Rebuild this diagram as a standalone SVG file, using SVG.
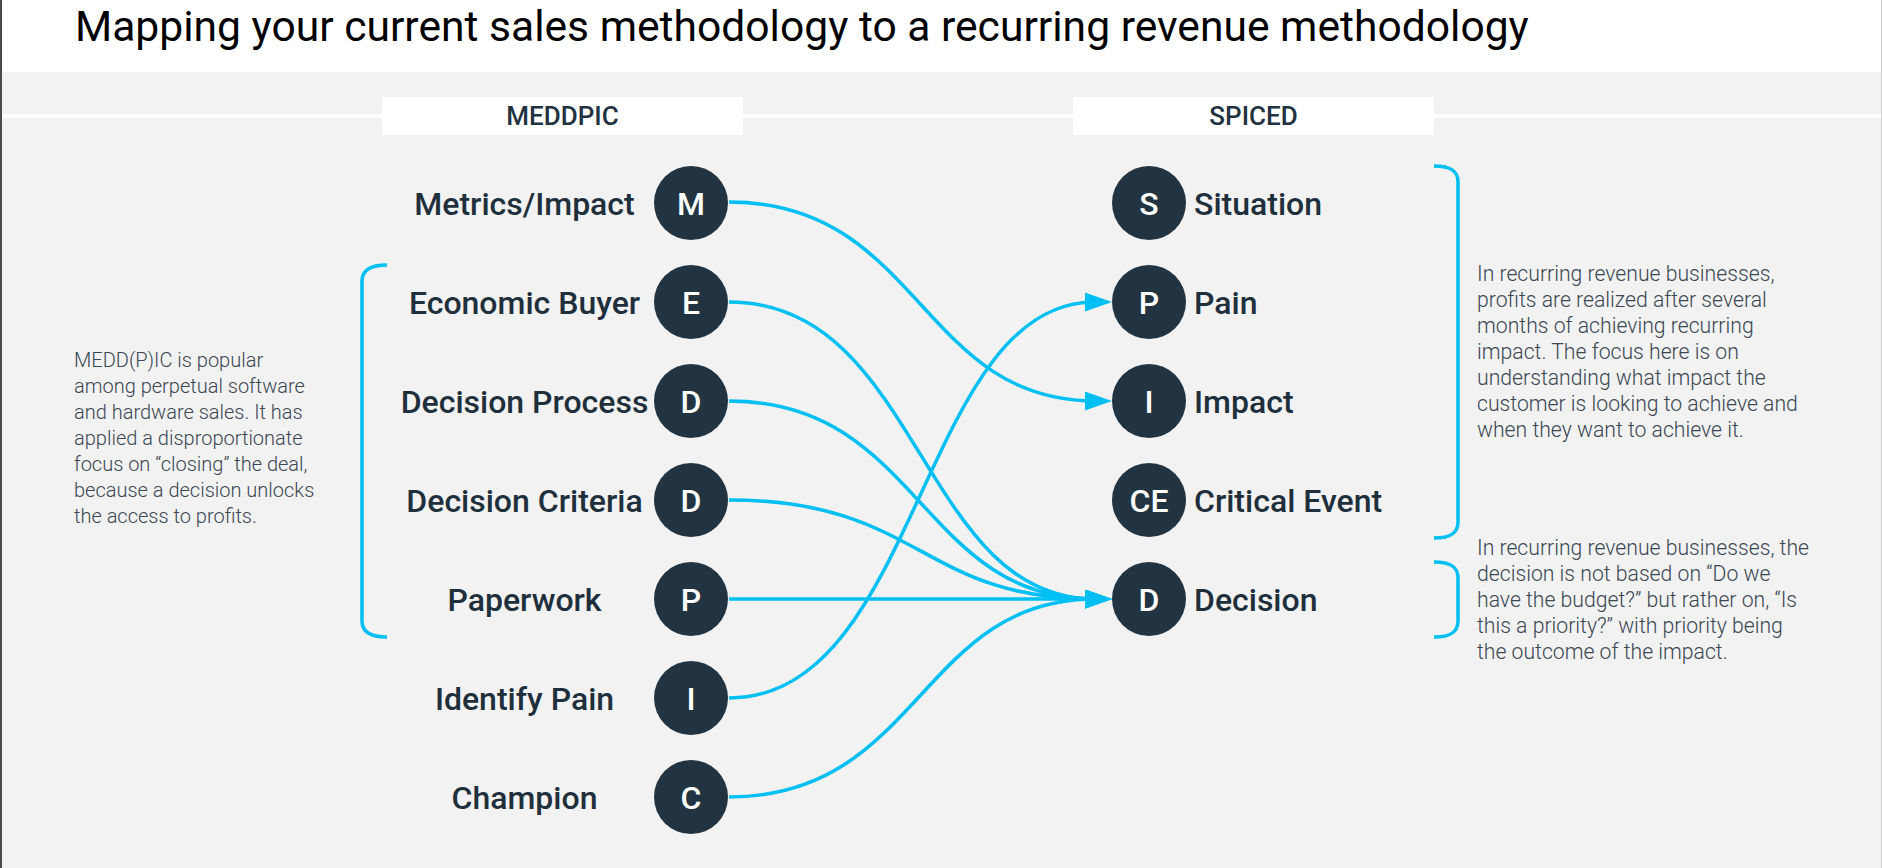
<svg xmlns="http://www.w3.org/2000/svg" width="1882" height="868" viewBox="0 0 1882 868">
<defs>
<style>
.bg{fill:#f2f2f2}
.title{font-family:Roboto,"Liberation Sans",sans-serif;font-size:42.6px;fill:#000}
.hdr{font-family:Roboto,"Liberation Sans",sans-serif;font-size:26px;font-weight:500;fill:#22323f;text-anchor:middle}
.lbl{font-family:Roboto,"Liberation Sans",sans-serif;font-size:32px;font-weight:500;fill:#1f2f3c}
.lft{text-anchor:middle}
.circ{fill:#223441}
.ltr{font-family:Roboto,"Liberation Sans",sans-serif;font-size:32px;font-weight:500;fill:#fff;text-anchor:middle}
.desc{font-family:Roboto,"Liberation Sans",sans-serif;font-size:20px;font-weight:300;fill:#3a4652}
.descr{font-size:21.2px}
.conn{fill:none;stroke:#00bff3;stroke-width:3.5}
.br{fill:none;stroke:#00bff3;stroke-width:3.5}
</style>
<marker id="arr" markerUnits="userSpaceOnUse" markerWidth="27" markerHeight="19" viewBox="0 0 27 19" refX="10" refY="9.5" orient="auto">
<path d="M0,0 L27,9.5 L0,19 z" fill="#00bff3"/>
</marker>
</defs>
<rect x="0" y="0" width="1882" height="868" class="bg"/>
<rect x="0" y="0" width="1882" height="72" fill="#fff"/>
<rect x="0" y="114" width="1882" height="3.5" fill="#fff"/>
<rect x="0" y="0" width="2" height="868" fill="#4a4a4a"/>
<rect x="1881" y="0" width="1" height="868" fill="#d0d0d0"/>
<text class="title" x="75" y="41">Mapping your current sales methodology to a recurring revenue methodology</text>

<g id="hdr-meddpic"><rect x="382" y="97" width="361" height="38" fill="#fff"/><text class="hdr" x="562.5" y="125">MEDDPIC</text></g>
<g id="hdr-spiced"><rect x="1073" y="97" width="361" height="38" fill="#fff"/><text class="hdr" x="1253.5" y="125">SPICED</text></g>

<g id="connectors">
<path class="conn" marker-end="url(#arr)" d="M729,202 C920,202 920,401 1095,401"/>
<path class="conn" marker-end="url(#arr)" d="M729,302 C920,302 920,599 1095,599"/>
<path class="conn" marker-end="url(#arr)" d="M729,401 C920,401 920,599 1095,599"/>
<path class="conn" marker-end="url(#arr)" d="M729,500 C920,500 920,599 1095,599"/>
<path class="conn" marker-end="url(#arr)" d="M729,599 L1095,599"/>
<path class="conn" marker-end="url(#arr)" d="M729,698 C920,698 920,302 1095,302"/>
<path class="conn" marker-end="url(#arr)" d="M729,797 C920,797 920,599 1095,599"/>
</g>

<g id="m-metrics"><text class="lbl lft" x="524.5" y="214.5">Metrics/Impact</text><circle class="circ" cx="691" cy="203" r="37"/><text class="ltr" x="691" y="214.5">M</text></g>
<g id="m-economic"><text class="lbl lft" x="524.5" y="313.5">Economic Buyer</text><circle class="circ" cx="691" cy="302" r="37"/><text class="ltr" x="691" y="313.5">E</text></g>
<g id="m-process"><text class="lbl lft" x="524.5" y="412.5">Decision Process</text><circle class="circ" cx="691" cy="401" r="37"/><text class="ltr" x="691" y="412.5">D</text></g>
<g id="m-criteria"><text class="lbl lft" x="524.5" y="511.5">Decision Criteria</text><circle class="circ" cx="691" cy="500" r="37"/><text class="ltr" x="691" y="511.5">D</text></g>
<g id="m-paperwork"><text class="lbl lft" x="524.5" y="610.5">Paperwork</text><circle class="circ" cx="691" cy="599" r="37"/><text class="ltr" x="691" y="610.5">P</text></g>
<g id="m-pain"><text class="lbl lft" x="524.5" y="709.5">Identify Pain</text><circle class="circ" cx="691" cy="698" r="37"/><text class="ltr" x="691" y="709.5">I</text></g>
<g id="m-champion"><text class="lbl lft" x="524.5" y="808.5">Champion</text><circle class="circ" cx="691" cy="797" r="37"/><text class="ltr" x="691" y="808.5">C</text></g>

<g id="s-situation"><circle class="circ" cx="1149" cy="203" r="37"/><text class="ltr" x="1149" y="214.5">S</text><text class="lbl" x="1194" y="214.5">Situation</text></g>
<g id="s-pain"><circle class="circ" cx="1149" cy="302" r="37"/><text class="ltr" x="1149" y="313.5">P</text><text class="lbl" x="1194" y="313.5">Pain</text></g>
<g id="s-impact"><circle class="circ" cx="1149" cy="401" r="37"/><text class="ltr" x="1149" y="412.5">I</text><text class="lbl" x="1194" y="412.5">Impact</text></g>
<g id="s-critical"><circle class="circ" cx="1149" cy="500" r="37"/><text class="ltr" x="1149" y="511.5">CE</text><text class="lbl" x="1194" y="511.5">Critical Event</text></g>
<g id="s-decision"><circle class="circ" cx="1149" cy="599" r="37"/><text class="ltr" x="1149" y="610.5">D</text><text class="lbl" x="1194" y="610.5">Decision</text></g>

<g id="left-note">
<path class="br" d="M387,265 C370,265 362,270 362,281 V621 C362,632 370,637 387,637"/>
<text class="desc" x="74" y="367">MEDD(P)IC is popular</text>
<text class="desc" x="74" y="393">among perpetual software</text>
<text class="desc" x="74" y="419">and hardware sales. It has</text>
<text class="desc" x="74" y="445">applied a disproportionate</text>
<text class="desc" x="74" y="471">focus on “closing” the deal,</text>
<text class="desc" x="74" y="497">because a decision unlocks</text>
<text class="desc" x="74" y="523">the access to profits.</text>
</g>

<g id="right-note-1">
<path class="br" d="M1434,166 C1451,166 1458,171 1458,182 V522 C1458,533 1451,538 1434,538"/>
<text class="desc descr" x="1477" y="281">In recurring revenue businesses,</text>
<text class="desc descr" x="1477" y="307">profits are realized after several</text>
<text class="desc descr" x="1477" y="333">months of achieving recurring</text>
<text class="desc descr" x="1477" y="359">impact. The focus here is on</text>
<text class="desc descr" x="1477" y="385">understanding what impact the</text>
<text class="desc descr" x="1477" y="411">customer is looking to achieve and</text>
<text class="desc descr" x="1477" y="437">when they want to achieve it.</text>
</g>

<g id="right-note-2">
<path class="br" d="M1434,562 C1451,562 1458,567 1458,578 V621 C1458,632 1451,637 1434,637"/>
<text class="desc descr" x="1477" y="555">In recurring revenue businesses, the</text>
<text class="desc descr" x="1477" y="581">decision is not based on “Do we</text>
<text class="desc descr" x="1477" y="607">have the budget?” but rather on, “Is</text>
<text class="desc descr" x="1477" y="633">this a priority?” with priority being</text>
<text class="desc descr" x="1477" y="659">the outcome of the impact.</text>
</g>
</svg>
